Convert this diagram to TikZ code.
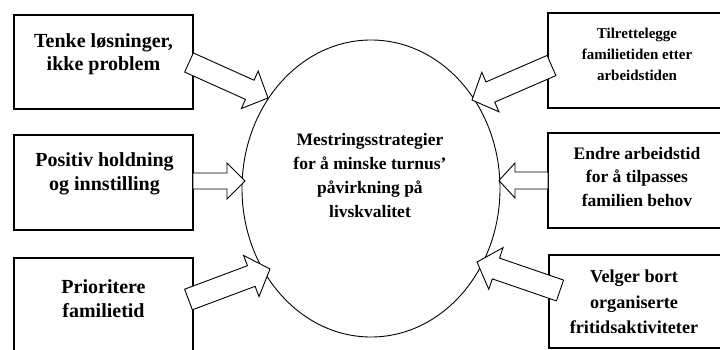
\documentclass[tikz,border=0pt]{standalone}
\usepackage{fontspec}
\setmainfont{Liberation Serif}
\usetikzlibrary{calc}
\newcommand\blockarr[5]{% tail, tip, half shaft, half head, head length
  \coordinate (ba-h) at ($(#2)!#5!(#1)$);
  \draw[arrowline] ($(#1)!#3!90:(#2)$) -- ($(ba-h)!#3!90:(#2)$) -- ($(ba-h)!#4!90:(#2)$)
    -- (#2) -- ($(ba-h)!#4!-90:(#2)$) -- ($(ba-h)!#3!-90:(#2)$) -- ($(#1)!#3!-90:(#2)$) -- cycle;
}
\begin{document}
\begin{tikzpicture}[x=1pt,y=-1pt,
  boxst/.style={draw, line width=1.3pt},
  txt/.style={font=\bfseries\fontsize{17.5}{24}\selectfont, align=center, inner sep=0pt},
  bigtxt/.style={txt, font=\bfseries\fontsize{20}{23.5}\selectfont},
  arrowline/.style={draw, fill=white, line width=0.9pt, line join=miter},
  ringst/.style={draw, line width=0.9pt}]
\useasboundingbox (0,0) rectangle (720,350);
\fill[white] (0,0) rectangle (720,350);
% ellipse
\draw[ringst] (371,188.5) ellipse [x radius=129, y radius=148.5];
\node[txt] (center) at (370,176) {Mestringsstrategier\\for å minske turnus’\\påvirkning på\\livskvalitet};
% boxes
\draw[boxst] (14,15) rectangle (193,109) coordinate (b1);
\draw[boxst] (14,135) rectangle (193,230) coordinate (b3);
\draw[boxst] (14,258) rectangle (193,360) coordinate (b5);
\draw[boxst] (730,13) rectangle (548,108) coordinate (b2);
\draw[boxst] (730,133) rectangle (548,228) coordinate (b4);
\draw[boxst] (730,255) rectangle (549,348) coordinate (b6);
% texts
\node[bigtxt] (t1) at (103.5,54) {Tenke løsninger,\\ikke problem};
\node[bigtxt] (t3) at (104.5,174) {Positiv holdning\\og innstilling};
\node[bigtxt] (t5) at (103.5,298.5) {Prioritere\\familietid};
\node[txt, font=\bfseries\fontsize{15}{21}\selectfont] (t2) at (637,54) {Tilrettelegge\\familietiden etter\\arbeidstiden};
\node[txt, font=\bfseries\fontsize{17.5}{23.5}\selectfont] (t4) at (637,177) {Endre arbeidstid\\for å tilpasses\\familien behov};
\node[txt, font=\bfseries\fontsize{18.2}{25.5}\selectfont] (t6) at (634,302) {Velger bort\\organiserte\\fritidsaktiviteter};
% arrow anchors
\coordinate (a1s) at (189,62.5);  \coordinate (a1e) at (268,98);
\coordinate (a2s) at (551.5,65.5); \coordinate (a2e) at (472,100);
\coordinate (a3s) at (193,181);   \coordinate (a3e) at (245,181);
\coordinate (a4s) at (548,180.5); \coordinate (a4e) at (499,180.5);
\coordinate (a5s) at (188.5,299.5); \coordinate (a5e) at (270,269);
\coordinate (a6s) at (560,290.5); \coordinate (a6e) at (477,262);
\blockarr{a1s}{a1e}{10.5pt}{20.5pt}{20pt}
\blockarr{a2s}{a2e}{11pt}{21.5pt}{20pt}
\blockarr{a3s}{a3e}{8pt}{18pt}{18pt}
\blockarr{a4s}{a4e}{8.5pt}{17.5pt}{16pt}
\blockarr{a5s}{a5e}{11pt}{22pt}{20pt}
\blockarr{a6s}{a6e}{11pt}{22pt}{20pt}
\end{tikzpicture}
\end{document}
